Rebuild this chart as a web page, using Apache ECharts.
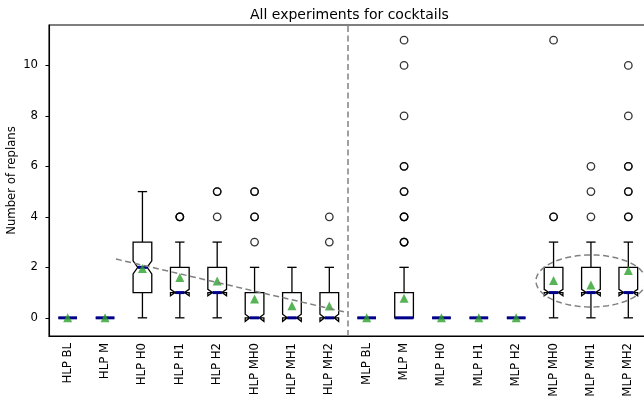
<!DOCTYPE html>
<html>
<head>
<meta charset="utf-8">
<script src="https://cdn.jsdelivr.net/npm/echarts@6/dist/echarts.min.js"></script>
<style>html,body{margin:0;padding:0;background:#fff;}#c{width:644px;height:403px;}</style>
</head>
<body>
<div id="c"></div>
<script>
// ---- data ----
const categories = ['HLP BL','HLP M','HLP H0','HLP H1','HLP H2','HLP MH0','HLP MH1','HLP MH2',
                    'MLP BL','MLP M','MLP H0','MLP H1','MLP H2','MLP MH0','MLP MH1','MLP MH2'];
const q1Values      = [0,0,1,1,1,0,0,0, 0,0,0,0,0,1,1,1];
const medianValues  = [0,0,2,1,1,0,0,0, 0,0,0,0,0,1,1,1];
const q3Values      = [0,0,3,2,2,1,1,1, 0,1,0,0,0,2,2,2];
const whiskerLow    = [0,0,0,0,0,0,0,0, 0,0,0,0,0,0,0,0];
const whiskerHigh   = [0,0,5,3,3,2,2,2, 0,2,0,0,0,3,3,3];
const notchHalf     = [0,0,0.26,0.13,0.13,0.14,0.14,0.14, 0,0,0,0,0,0.13,0.13,0.13];
const meanValues    = [0,0,1.95,1.6,1.46,0.75,0.48,0.47, 0,0.78,0,0,0,1.48,1.3,1.87];
const outlierValues = [[],[],[],[4,4,4],[4,5,5],[3,4,4,5,5],[],[3,4],
                       [],[3,3,3,4,4,4,5,5,6,6,8,10,11],[],[],[],[4,4,11],[4,5,6],[4,4,5,5,6,6,8,10]];
const yTicks = [0,2,4,6,8,10];
const trendLine = [[1.29,2.33],[7.5,0.2]];
const dividerX = 7.5;
const ellipseCenter = [14, 1.46];
const ellipseRadii = [1.47, 1.03];
const yMin = -0.72, yMax = 11.6;

// ---- build ----
const boxData = categories.map((c,i)=>[i,q1Values[i],medianValues[i],q3Values[i],whiskerLow[i],whiskerHigh[i],notchHalf[i]]);
const meanData = meanValues.map((v,i)=>[i,v]);
const outlierData = [];
outlierValues.forEach((arr,i)=>arr.forEach(v=>outlierData.push([i,v])));

function renderBox(params, api){
  const i=api.value(0), q1=api.value(1), med=api.value(2), q3=api.value(3),
        wl=api.value(4), wh=api.value(5), nh=api.value(6);
  const band=api.size([1,0])[0];
  const cx=api.coord([i,med])[0];
  const bw=band*0.25, cw=band*0.125;
  const y=v=>api.coord([i,v])[1];
  let pts, mhalf;
  if(nh>0){
    const nl=med-nh, nu=med+nh;
    pts=[[cx-bw,y(q1)],[cx+bw,y(q1)],[cx+bw,y(nl)],[cx+cw,y(med)],[cx+bw,y(nu)],[cx+bw,y(q3)],
         [cx-bw,y(q3)],[cx-bw,y(nu)],[cx-cw,y(med)],[cx-bw,y(nl)]];
    mhalf=cw;
  } else {
    pts=[[cx-bw,y(q1)],[cx+bw,y(q1)],[cx+bw,y(q3)],[cx-bw,y(q3)]];
    mhalf=bw;
  }
  const ls={stroke:'#000',lineWidth:1.3,fill:null};
  return {type:'group',children:[
    {type:'line',shape:{x1:cx,y1:y(q1),x2:cx,y2:y(wl)},style:ls},
    {type:'line',shape:{x1:cx,y1:y(q3),x2:cx,y2:y(wh)},style:ls},
    {type:'line',shape:{x1:cx-cw,y1:y(wl),x2:cx+cw,y2:y(wl)},style:ls},
    {type:'line',shape:{x1:cx-cw,y1:y(wh),x2:cx+cw,y2:y(wh)},style:ls},
    {type:'polygon',shape:{points:pts},style:{stroke:'#000',lineWidth:1.3,fill:'#fff'}},
    {type:'line',shape:{x1:cx-mhalf,y1:y(med),x2:cx+mhalf,y2:y(med)},style:{stroke:'#00008b',lineWidth:3}}
  ]};
}

function renderEllipse(params, api){
  const c=api.coord(ellipseCenter);
  const s=api.size(ellipseRadii);
  const pts=[];
  for(let k=0;k<=120;k++){const t=k/120*Math.PI*2; pts.push([c[0]+s[0]*Math.cos(t), c[1]+s[1]*Math.sin(t)]);}
  return {type:'polyline',shape:{points:pts},style:{stroke:'#808080',lineWidth:1.5,fill:null,lineDash:[6,3.5]}};
}

const FS = 11.7;
const chart=echarts.init(document.getElementById('c'));
chart.setOption({
  animation:false,
  backgroundColor:'#fff',
  textStyle:{fontFamily:'DejaVu Sans'},
  title:{text:'All experiments for cocktails',left:245,top:3,
    textStyle:{fontSize:14,fontWeight:'normal',color:'#000',fontFamily:'DejaVu Sans'}},
  grid:{left:49,top:25,bottom:67,right:-3,show:true,borderColor:'#000',borderWidth:1.1,
        backgroundColor:'transparent',containLabel:false,outerBoundsMode:'none'},
  xAxis:[
    {type:'category',data:categories,boundaryGap:true,
     axisLine:{onZero:false,lineStyle:{color:'#000',width:1.1}},
     axisTick:{alignWithLabel:true,length:3.5,lineStyle:{color:'#000'}},
     axisLabel:{rotate:90,fontSize:FS,color:'#000',margin:7,interval:0,fontFamily:'DejaVu Sans'},
     splitLine:{show:false}},
    {type:'value',min:-0.5,max:15.5,show:false,axisLine:{onZero:false}}
  ],
  yAxis:{type:'value',min:yMin,max:yMax,
    name:'Number of replans',nameLocation:'middle',nameRotate:90,nameGap:31,nameMoveOverlap:false,
    nameTextStyle:{fontSize:FS,color:'#000',fontFamily:'DejaVu Sans'},
    axisLine:{show:true,onZero:false,lineStyle:{color:'#000',width:1.1}},
    axisTick:{show:true,length:3.5,customValues:yTicks,lineStyle:{color:'#000'}},
    axisLabel:{fontSize:FS,color:'#000',margin:11,customValues:yTicks,fontFamily:'DejaVu Sans'},
    splitLine:{show:false}},
  series:[
    {type:'custom',xAxisIndex:0,renderItem:renderBox,data:boxData,encode:{x:0,y:[1,2,3,4,5]},z:2},
    {type:'scatter',xAxisIndex:0,data:outlierData,symbol:'circle',symbolSize:7.5,
     itemStyle:{color:'rgba(0,0,0,0)',borderColor:'#000',borderWidth:1.3},z:3},
    {type:'scatter',xAxisIndex:0,data:meanData,symbol:'triangle',symbolSize:9,
     itemStyle:{color:'#2ca02c'},z:4},
    {type:'line',xAxisIndex:1,data:trendLine,symbol:'none',
     lineStyle:{color:'#808080',width:1.5,type:[6,3.5]},z:5},
    {type:'line',xAxisIndex:1,data:[[dividerX,yMin],[dividerX,yMax]],symbol:'none',
     lineStyle:{color:'#808080',width:1.5,type:[6,3.5]},z:5},
    {type:'custom',xAxisIndex:1,renderItem:renderEllipse,data:[[ellipseCenter[0],ellipseCenter[1]]],z:5,clip:false}
  ]
});
</script>
</body>
</html>
